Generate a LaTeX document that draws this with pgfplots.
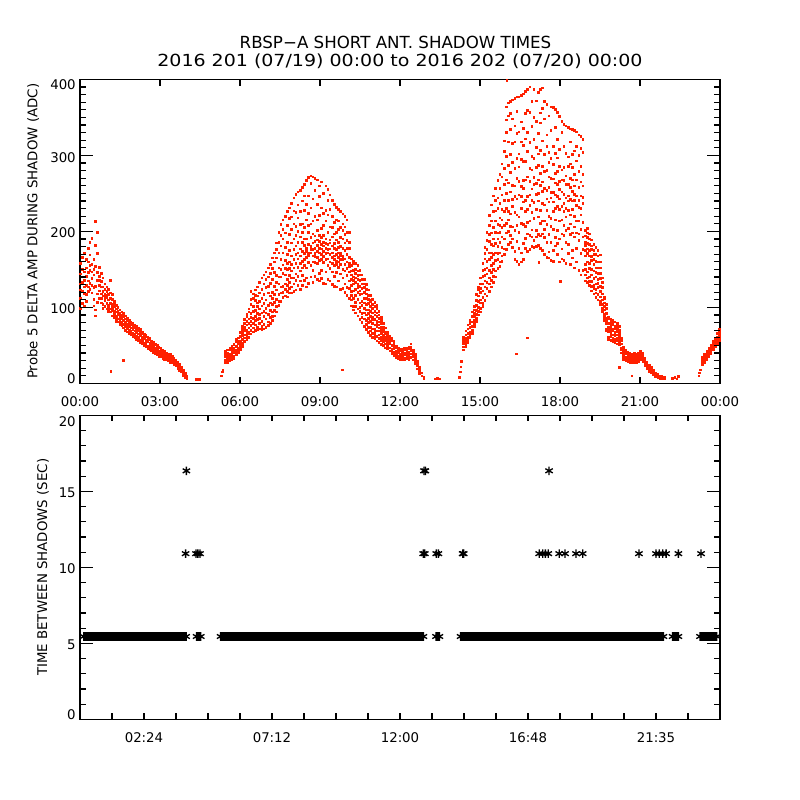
\documentclass[border=0pt]{standalone}
\usepackage{fontspec}
\setmainfont{DejaVu Sans}
\newfontfamily\widefont[FakeStretch=1.14]{DejaVu Sans}
\usepackage{pgfplots}
\usepackage{pgfplotstable}
\pgfplotsset{compat=1.18}
\definecolor{idlred}{RGB}{255,32,0}

\pgfplotstableread{
x a b c d e f
0.02 112 158 131 99 144 123
0.09 140 105 166 121 150 133
0.16 118 147 101 136 171 127
0.23 129 108 152 163 117 141
0.30 146 127 178 135 160 121
0.37 132 169 149 186 124 155
0.44 157 138 119 147 191 129
0.51 111 143 126 163 102 150
0.58 97 213 154 182 128 89
0.65 136 199 118 146 107 171
0.72 141 112 129 153 122 136
0.79 118 134 106 145 127 112
0.86 127 104 139 115 99 121
0.93 109 124 101 117 131 113
1.00 121 98 113 127 105 116
1.07 103 117 95 124 110 99
1.14 112 94 136 105 119 98
1.21 96 111 89 104 117 100
1.28 101 87 95 108 91 104
1.35 89 98 82 103 94 86
1.42 95 81 90 100 85 93
1.49 84 92 77 88 97 80
1.56 90 76 85 94 80 87
1.63 78 88 73 92 83 30
1.70 85 70 81 89 75 79
1.77 72 83 68 78 86 75
1.84 80 66 75 83 70 77
1.91 69 78 64 73 81 67
1.98 76 62 71 79 66 73
2.05 65 74 60 69 77 63
2.12 72 58 67 75 62 70
2.19 61 70 56 65 73 59
2.26 68 54 63 71 57 66
2.33 57 66 52 61 68 55
2.40 64 50 59 65 53 61
2.47 53 62 48 57 63 51
2.54 60 46 55 61 49 57
2.61 50 58 44 53 59 47
2.68 55 43 51 56 46 49
2.75 46 53 41 50 54 44
2.82 51 39 47 52 42 45
2.89 42 49 38 45 50 40
2.96 47 36 43 48 39 41
3.03 38 45 35 42 46 40
3.10 43 33 40 44 36 38
3.17 35 41 32 38 42 34
3.24 39 31 36 40 33 37
3.31 33 38 30 35 39 31
3.38 37 30 34 39 32 28
3.45 30 35 27 33 36 29
3.52 32 25 29 33 27 30
3.59 25 30 23 28 31 26
3.66 27 20 24 28 22 25
3.73 19 24 17 22 25 20
3.80 21 15 18 20 16 19
3.87 13 17 11 15 16 12
3.94 12 9 14 10 13 8
4.01 7 10 6 8 nan nan
}\tA

\pgfplotstableread{
x a b c d e f g h i j
5.45 31 38 27 42 35 29 nan nan nan nan
5.53 40 30 44 34 28 37 nan nan nan nan
5.61 33 45 30 39 36 47 nan nan nan nan
5.69 42 34 49 31 38 45 nan nan nan nan
5.77 36 51 40 33 46 43 nan nan nan nan
5.85 44 38 55 49 41 58 nan nan nan nan
5.93 53 41 47 60 44 56 nan nan nan nan
6.01 48 62 55 45 67 51 nan nan nan nan
6.09 58 49 71 63 53 75 67 nan nan nan
6.17 60 79 55 70 84 64 74 nan nan nan
6.25 66 88 58 77 70 91 62 82 nan nan
6.33 73 61 94 68 85 79 98 65 nan nan
6.41 70 104 82 65 121 92 76 111 87 nan
6.49 95 68 112 79 86 118 73 101 nan nan
6.57 77 109 88 70 123 96 83 116 nan nan
6.65 101 74 92 127 84 115 71 106 nan nan
6.73 86 119 72 98 133 79 108 91 nan nan
6.81 112 75 93 139 82 124 102 71 nan nan
6.89 78 131 95 72 117 143 88 105 nan nan
6.97 99 74 126 85 147 110 93 137 nan nan
7.05 81 119 140 76 103 152 91 128 nan nan
7.13 132 87 106 157 79 115 96 145 nan nan
7.21 94 151 83 120 165 104 137 88 112 nan
7.29 128 89 172 107 146 96 160 117 nan nan
7.37 101 165 123 185 94 142 111 176 133 nan
7.45 152 108 199 131 172 117 186 140 103 nan
7.53 119 181 140 209 108 163 127 195 150 nan
7.61 172 113 145 215 128 190 156 120 203 nan
7.69 131 198 115 162 220 143 179 124 151 nan
7.77 186 121 150 226 137 170 114 208 158 129
7.85 142 217 119 175 231 133 160 196 125 151
7.93 203 127 168 148 237 119 185 139 219 157
8.01 131 176 244 152 121 210 163 139 190 227
8.09 225 144 170 123 249 158 195 136 181 207
8.17 153 252 129 186 164 218 141 172 235 200
8.25 193 135 168 254 148 226 177 124 209 158
8.33 142 210 174 129 258 161 240 186 152 199
8.41 228 155 182 262 136 171 205 163 247 190
8.49 166 267 139 190 178 236 152 215 127 174
8.57 247 171 199 132 271 159 183 224 168 208
8.65 180 140 263 192 172 231 155 210 176 273
8.73 214 176 149 272 185 133 243 168 197 160
8.81 167 254 187 141 178 220 270 159 194 171
8.89 236 182 158 201 268 174 137 189 215 166
8.97 178 145 221 187 162 260 172 195 135 246
9.05 192 265 170 149 231 183 204 163 177 138
9.13 159 208 186 250 174 132 195 167 224 181
9.21 228 171 147 190 260 163 178 214 131 184
9.29 172 137 199 164 241 183 155 222 176 255
9.37 189 248 160 177 135 206 170 229 151 185
9.45 147 181 220 166 241 130 193 172 158 205
9.53 212 163 178 128 197 236 155 184 168 141
9.61 170 232 146 189 161 215 127 176 199 157
9.69 186 153 203 229 166 135 179 160 214 172
9.77 144 192 168 226 180 157 124 205 171 163
9.85 201 163 223 139 178 150 190 125 167 210
9.93 157 220 175 131 196 164 120 185 148 206
10.01 188 142 170 215 126 160 199 151 116 178
10.09 135 178 158 199 112 166 147 186 125 154
10.17 148 116 164 129 102 155 137 121 143 110
10.25 122 158 101 140 131 161 112 149 97 136
10.33 145 107 133 158 93 124 150 116 139 101
10.41 111 148 126 89 155 137 98 120 142 130
10.49 136 95 149 117 84 128 106 143 122 100
10.57 103 131 80 143 118 92 125 108 137 87
10.65 126 85 112 137 75 99 120 93 131 106
10.73 90 118 71 104 130 83 112 97 124 78
10.81 111 74 97 123 67 105 86 116 92 80
10.89 82 108 63 95 116 74 101 88 69 110
10.97 99 66 87 111 61 79 104 72 93 84
11.05 71 95 59 84 107 67 90 77 101 63
11.13 88 62 99 75 56 93 69 82 103 79
11.21 64 86 54 77 95 69 81 59 90 73
11.29 79 57 87 66 51 74 83 61 70 nan
11.37 59 74 50 68 79 63 55 71 nan nan
11.45 68 52 73 47 61 57 65 nan nan nan
11.53 50 64 46 58 67 54 61 nan nan nan
11.61 58 43 52 62 47 55 nan nan nan nan
11.69 45 56 39 50 59 42 nan nan nan nan
11.77 52 37 46 55 41 49 nan nan nan nan
11.85 38 47 34 43 49 40 nan nan nan nan
11.93 44 33 40 46 36 42 nan nan nan nan
12.01 35 43 32 39 45 37 nan nan nan nan
12.09 41 34 45 37 32 43 nan nan nan nan
12.17 33 44 38 31 46 40 nan nan nan nan
12.25 42 36 47 33 39 45 nan nan nan nan
12.33 37 46 32 41 48 35 nan nan nan nan
12.41 45 34 52 39 48 43 nan nan nan nan
12.49 38 44 31 41 35 nan nan nan nan nan
12.57 30 36 26 33 38 nan nan nan nan nan
12.65 24 29 19 26 nan nan nan nan nan nan
12.73 17 21 13 nan nan nan nan nan nan nan
12.81 10 14 nan nan nan nan nan nan nan nan
12.89 6 8 nan nan nan nan nan nan nan nan
}\tB

\pgfplotstableread{
x a b c d e f g h i j
14.38 48 57 44 53 61 nan nan nan nan nan
14.46 55 64 48 69 59 51 nan nan nan nan
14.54 61 72 54 77 66 58 nan nan nan nan
14.62 74 60 83 67 79 63 nan nan nan nan
14.70 70 88 66 81 94 75 nan nan nan nan
14.78 92 75 101 83 97 79 88 nan nan nan
14.86 86 109 96 117 82 103 91 nan nan nan
14.94 115 90 124 100 108 127 95 nan nan nan
15.02 99 131 110 139 94 120 106 125 nan nan
15.10 141 105 158 122 113 149 131 101 nan nan
15.18 118 164 135 179 109 150 127 171 142 nan
15.26 176 125 199 144 115 161 188 133 152 nan
15.34 139 208 163 121 187 149 221 172 131 196
15.42 198 136 172 235 155 127 214 183 146 166
15.50 158 226 141 190 247 170 133 205 181 150
15.58 214 162 241 148 184 257 172 199 140 227
15.66 171 244 190 151 267 209 163 230 180 198
15.74 257 186 218 160 199 275 172 237 154 208
15.82 193 272 168 229 289 205 179 248 161 215
15.90 241 177 305 208 262 190 319 226 170 283
15.98 330 198 268 176 364 230 299 211 347 250
16.06 215 352 183 287 241 369 200 318 264 226
16.14 301 195 252 371 223 334 186 278 207 355
16.22 233 348 179 291 206 373 261 316 190 242
16.30 318 174 246 375 201 283 163 339 225 260
16.38 187 296 358 222 161 270 377 208 329 243
16.46 266 199 331 157 248 377 219 302 178 285
16.54 344 230 172 295 259 160 379 211 318 246
16.62 209 313 267 381 184 239 336 163 292 257
16.70 292 178 355 241 207 384 268 191 322 226
16.78 246 330 197 387 272 174 305 229 359 212
16.86 357 214 283 176 390 248 317 195 266 234
16.94 225 299 371 202 256 180 338 241 281 193
17.02 321 188 262 387 217 296 179 350 238 271
17.10 263 345 201 284 180 372 229 311 193 249
17.18 196 287 329 219 383 250 182 302 240 268
17.26 343 228 261 178 307 387 211 276 194 356
17.34 253 389 197 319 237 175 286 214 362 265
17.42 214 301 170 257 348 192 371 235 279 203
17.50 327 186 243 367 209 280 166 312 228 254
17.58 239 291 173 352 220 165 304 258 196 272
17.66 186 270 333 207 364 244 162 296 217 251
17.74 312 203 251 175 288 363 226 269 161 239
17.82 248 337 181 264 215 303 361 192 276 230
17.90 201 279 357 233 170 321 246 184 262 297
17.98 286 214 243 351 190 266 160 308 229 255
18.06 233 330 177 268 215 345 197 252 281 164
18.14 312 195 249 162 284 226 341 208 267 237
18.22 219 273 339 186 244 303 158 262 230 201
18.30 262 171 298 228 337 204 247 183 286 240
18.38 196 318 242 157 270 222 335 258 210 289
18.46 284 229 175 334 253 198 301 240 165 268
18.54 241 306 193 260 152 333 220 275 206 249
18.62 178 268 331 214 247 160 293 234 198 312
18.70 300 232 188 327 149 258 214 279 241 197
18.78 222 325 171 247 286 203 143 265 230 309
18.86 260 193 304 149 321 237 176 212 275 245
18.94 168 201 143 186 157 194 135 175 150 182
19.02 192 147 171 204 133 184 160 139 198 177
19.10 151 183 129 168 197 140 175 158 190 134
19.18 176 134 162 189 122 150 181 143 167 128
19.26 129 170 148 183 118 157 138 175 125 163
19.34 161 119 179 140 152 113 170 131 146 124
19.42 137 168 110 152 175 126 145 117 160 132
19.50 152 114 138 169 104 128 145 121 160 108
19.58 118 95 133 104 126 139 110 99 nan nan
19.66 97 112 83 106 91 114 101 87 nan nan
19.74 86 72 99 79 104 92 70 83 nan nan
19.82 74 61 85 68 79 58 71 87 nan nan
19.90 66 80 57 74 84 62 70 77 nan nan
19.98 77 59 69 83 55 72 64 80 nan nan
20.06 63 75 54 81 68 58 72 66 nan nan
20.14 71 57 79 64 52 75 60 68 nan nan
20.22 58 70 51 66 75 62 54 nan nan nan
20.30 47 56 40 52 59 44 nan nan nan nan
20.38 41 34 48 37 45 31 nan nan nan nan
20.46 35 42 30 39 44 33 nan nan nan nan
20.54 38 29 41 33 36 nan nan nan nan nan
20.62 31 37 28 40 34 nan nan nan nan nan
20.70 36 29 39 32 27 nan nan nan nan nan
20.78 30 38 27 34 40 nan nan nan nan nan
20.86 37 28 33 39 31 nan nan nan nan nan
20.94 32 40 29 36 38 nan nan nan nan nan
21.02 39 33 42 36 31 nan nan nan nan nan
21.10 34 40 30 37 29 nan nan nan nan nan
21.18 28 33 23 30 26 nan nan nan nan nan
21.26 24 28 19 22 26 nan nan nan nan nan
21.34 20 24 16 22 18 nan nan nan nan nan
21.42 18 14 21 16 nan nan nan nan nan nan
21.50 15 18 12 16 nan nan nan nan nan nan
21.58 12 9 14 11 nan nan nan nan nan nan
21.66 10 12 8 nan nan nan nan nan nan nan
21.74 8 10 7 nan nan nan nan nan nan nan
21.82 7 9 nan nan nan nan nan nan nan nan
21.90 6 8 nan nan nan nan nan nan nan nan
}\tC

\pgfplotstableread{
x a b c d e
23.34 27 32 25 30 34
23.42 33 28 37 31 39
23.50 36 42 31 39 34
23.58 40 35 46 38 43
23.66 45 50 39 47 42
23.74 49 44 55 51 46
23.82 53 60 48 57 50
23.90 58 52 66 61 55
23.98 63 57 71 67 60
}\tD

\pgfplotstableread{
x y
1.16 16
4.37 5
4.42 5
4.47 5
5.30 10
5.33 15
5.36 18
9.84 18
13.32 6
13.40 7
13.47 6
14.23 8
14.26 15
14.28 22
14.30 29
16.00 399
16.36 39
16.78 60
17.20 159
18.00 134
20.22 21
20.69 10
22.22 7
22.30 8
22.38 6
22.44 9
23.20 10
23.23 14
23.26 18
}\tX

\newcommand{\yl}[2]{\smash{\raisebox{#1}{#2}}}

\begin{document}
\begin{tikzpicture}
\path[use as bounding box] (0,0) rectangle (600pt,600pt);
\pgfplotsset{
  idlaxis/.style={
    scale only axis, width=480pt, height=228pt, anchor=south west,
    axis line style={line width=0.8pt},
    tick style={draw=none},
    tick label style={font=\fontsize{10}{12}\selectfont, inner sep=0pt},
    xticklabel style={yshift=-10pt},
    yticklabel style={xshift=-3pt, anchor=east},
    label style={font=\fontsize{10}{12}\selectfont},
    xmin=0, xmax=24,
  },
  dots/.style={only marks, mark=square*, mark size=0.62pt, color=idlred, mark options={draw=none, fill=idlred}},
}
\begin{axis}[idlaxis, at={(60pt,312.5pt)},
  ymin=0, ymax=400,
  xtick={0,3,...,24},
  xticklabels={00:00,03:00,06:00,09:00,12:00,15:00,18:00,21:00,00:00},
  ytick={0,100,200,300,400},
  yticklabels={\yl{0.1pt}{0},\yl{-4.95pt}{100},\yl{-4.95pt}{200},\yl{-5.1pt}{300},\yl{-7.95pt}{400}},
  ylabel={Probe 5 DELTA AMP DURING SHADOW (ADC)},
  ylabel style={at={(axis description cs:-0.073,0.5)}, anchor=center},
]
\pgfplotsinvokeforeach{1,...,6}{\addplot[dots] table[x index=0, y index=#1]{\tA};}
\pgfplotsinvokeforeach{1,...,10}{\addplot[dots] table[x index=0, y index=#1]{\tB};}
\pgfplotsinvokeforeach{1,...,10}{\addplot[dots] table[x index=0, y index=#1]{\tC};}
\pgfplotsinvokeforeach{1,...,5}{\addplot[dots] table[x index=0, y index=#1]{\tD};}
\addplot[dots] table[x index=0, y index=1]{\tX};
\end{axis}

\begin{axis}[idlaxis, at={(60pt,60.5pt)},
  ymin=0, ymax=20,
  xtick={2.4,7.2,12,16.8,21.6},
  xticklabels={02:24,07:12,12:00,16:48,21:35},
  ytick={0,5,10,15,20},
  yticklabels={\yl{-0.45pt}{0},\yl{-4.95pt}{5},\yl{-4.95pt}{10},\yl{-4.95pt}{15},\yl{-8.65pt}{20}},
  ylabel={TIME BETWEEN SHADOWS (SEC)},
  ylabel style={at={(axis description cs:-0.058,0.5)}, anchor=center},
  unbounded coords=jump,
]
\addplot[black, line width=7pt, mark=asterisk, mark size=3.2pt, mark options={line width=1pt}]
 coordinates {(0.14,5.45) (3.98,5.45) (4.2,nan) (4.37,5.45) (4.53,5.45) (4.9,nan)
 (5.27,5.45) (12.88,5.45) (13.1,nan) (13.35,5.45) (13.48,5.45) (13.8,nan)
 (14.27,5.45) (21.88,5.45) (22.1,nan) (22.22,5.45) (22.44,5.45) (22.8,nan)
 (23.25,5.45) (23.88,5.45)};
\addplot[only marks, black, mark=asterisk, mark size=3.2pt, line width=1pt]
 coordinates {(3.96,10.9) (4.35,10.9) (4.42,10.9) (4.50,10.9)
 (12.87,10.9) (12.93,10.9) (13.36,10.9) (13.44,10.9) (14.35,10.9) (14.39,10.9)
 (17.22,10.9) (17.35,10.9) (17.45,10.9) (17.56,10.9) (17.97,10.9) (18.19,10.9)
 (18.60,10.9) (18.85,10.9) (20.96,10.9) (21.60,10.9) (21.72,10.9) (21.85,10.9) (21.98,10.9)
 (22.44,10.9) (23.29,10.9)
 (3.99,16.35) (12.90,16.35) (12.95,16.35) (17.59,16.35)};
\end{axis}

% tick marks (IDL style, inward, on all four sides)
\begin{scope}[line width=0.9pt, black]
\foreach \v in {10,20,...,390} {
  \draw (60pt,{312.5pt+0.57pt*\v}) -- ++(4.5pt,0pt);
  \draw (540pt,{312.5pt+0.57pt*\v}) -- ++(-4.5pt,0pt);}
\foreach \v in {100,200,300} {
  \draw (60pt,{312.5pt+0.57pt*\v}) -- ++(10pt,0pt);
  \draw (540pt,{312.5pt+0.57pt*\v}) -- ++(-10pt,0pt);}
\foreach \h in {3,6,...,21} {
  \draw ({60pt+20pt*\h},312.5pt) -- ++(0pt,5pt);
  \draw ({60pt+20pt*\h},540.5pt) -- ++(0pt,-5pt);}
\foreach \v in {1,...,19} {
  \draw (60pt,{60.5pt+11.4pt*\v}) -- ++(4.5pt,0pt);
  \draw (540pt,{60.5pt+11.4pt*\v}) -- ++(-4.5pt,0pt);}
\foreach \v in {5,10,15} {
  \draw (60pt,{60.5pt+11.4pt*\v}) -- ++(10pt,0pt);
  \draw (540pt,{60.5pt+11.4pt*\v}) -- ++(-10pt,0pt);}
\foreach \k in {1,...,19} {
  \draw ({60pt+24pt*\k},60.5pt) -- ++(0pt,4.5pt);
  \draw ({60pt+24pt*\k},288.5pt) -- ++(0pt,-4.5pt);}
\end{scope}

\node[anchor=base, font=\fontsize{12.5}{15}\selectfont] at (296.6pt,563.8pt) {RBSP−A SHORT ANT. SHADOW TIMES};
\node[anchor=base, font=\widefont\fontsize{12.5}{15}\selectfont] at (300pt,550pt) {2016 201 (07/19) 00:00 to 2016 202 (07/20) 00:00};
\end{tikzpicture}
\end{document}
